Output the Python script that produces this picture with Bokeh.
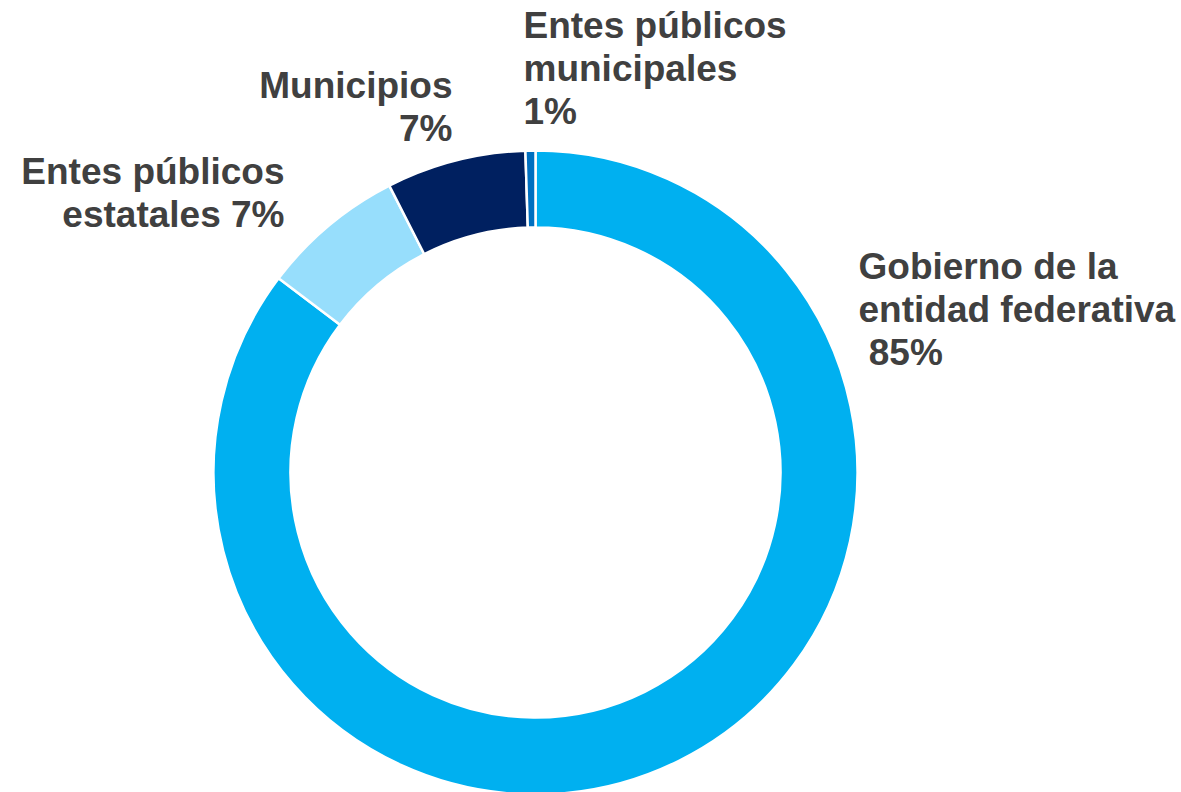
import math
from bokeh.plotting import figure
from bokeh.models import ColumnDataSource, Range1d
from bokeh.core.properties import value
from bokeh.embed import file_html
from bokeh.resources import INLINE

# ---- data ----
categories = ["Gobierno de la entidad federativa", "Entes públicos estatales",
              "Municipios", "Entes públicos municipales"]
shares = [85.3, 7.2, 7.0, 0.5]
label_texts = ["Gobierno de la\nentidad federativa\n\u00a085%",
               "Entes públicos\nestatales 7%",
               "Municipios\n7%",
               "Entes públicos\nmunicipales\n1%"]
colors = ["#00B0F0", "#97DEFC", "#002060", "#0070C0"]

# ---- layout ----
W, H = 1181, 792
cx, cy = 535, 320
r_out, r_in = 322, 245

total = sum(shares)
starts, ends = [], []
cum = 0.0
for s in shares:
    starts.append(math.pi / 2 - 2 * math.pi * cum / total)
    cum += s
    ends.append(math.pi / 2 - 2 * math.pi * cum / total)

src = ColumnDataSource(dict(cat=categories, share=shares, start=starts, end=ends,
                            color=colors, x=[cx] * 4, y=[cy] * 4))

p = figure(width=W, height=H, output_backend="svg", toolbar_location=None,
           x_range=Range1d(0, W), y_range=Range1d(0, H),
           x_axis_type=None, y_axis_type=None, min_border=0,
           background_fill_color="white", border_fill_color="white")
p.grid.visible = False
p.outline_line_color = None

p.annular_wedge(x="x", y="y", inner_radius=r_in, outer_radius=r_out,
                start_angle="start", end_angle="end", direction="clock",
                fill_color="color", line_color="white", line_width=2.5, source=src)

# label anchors (layout): x, y, align
lab_x = [858, 284, 452, 523]
lab_y = [547, 642, 728, 788]
lab_align = ["left", "right", "right", "left"]
lsrc = ColumnDataSource(dict(x=lab_x, y=lab_y, text=label_texts, align=lab_align))
p.text(x="x", y="y", text="text", text_align="align", text_baseline="top",
       text_font=value("Liberation Sans"), text_font_style="bold",
       text_font_size="37px", text_color="#404040", text_line_height=1.05,
       source=lsrc)

open("out.html", "w").write(file_html(p, INLINE))
